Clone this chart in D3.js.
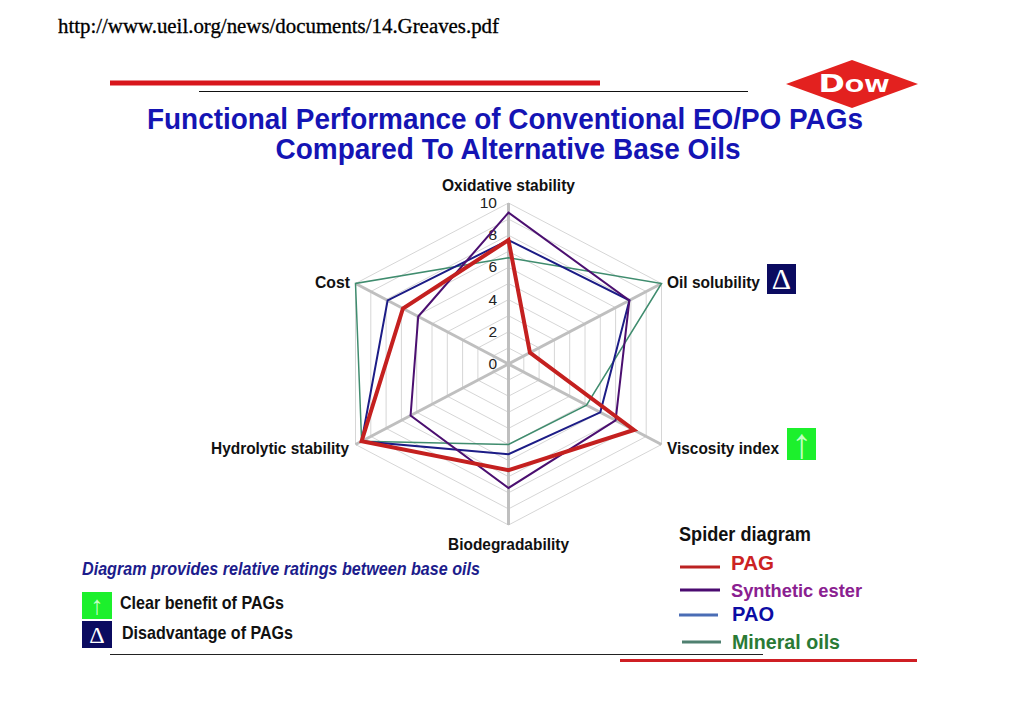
<!DOCTYPE html>
<html>
<head>
<meta charset="utf-8">
<style>
  html, body {margin: 0; padding: 0; background: #fff;}
  text {font-family: "Liberation Sans", Arial, sans-serif;}
</style>
<script src="https://d3js.org/d3.v7.min.js"></script>
</head>
<body>
<div id="chart-area"></div>
<script>
//spider chart data
let axesNames = ["Oxidative stability", "Oil solubility", "Viscosity index", "Biodegradability", "Hydrolytic stability", "Cost"];
let pag = [7.7, 1.4, 8.2, 6.6, 9.6, 6.9];
let ester = [9.4, 7.9, 7.0, 7.7, 6.4, 5.9];
let pao = [7.7, 7.9, 6.0, 5.6, 9.6, 7.9];
let mineral = [6.6, 10, 5.1, 5.0, 9.6, 10];
let tickLabels = [0, 2, 4, 6, 8, 10];
let rings = [1, 2, 3, 4, 5, 6, 7, 8, 9, 10];

let width = 1024;
let height = 703;
let cx = 508.5;
let cy = 364;

let svg = d3.select("#chart-area")
            .append("svg")
            .attr("width", width)
            .attr("height", height)
            .style("display", "block");

// header
svg.append("text")
    .text("http://www.ueil.org/news/documents/14.Greaves.pdf")
    .attr("x", 58)
    .attr("y", 33)
    .attr("font-size", 20)
    .attr("textLength", 441)
    .attr("lengthAdjust", "spacingAndGlyphs")
    .attr("fill", "#000")
    .attr("stroke", "#000")
    .attr("stroke-width", 0.3)
    .style("font-family", "'Liberation Serif', serif");

function rule(x1, x2, y, w, color){
    svg.append("line")
        .attr("x1", x1).attr("x2", x2)
        .attr("y1", y).attr("y2", y)
        .attr("stroke", color)
        .attr("stroke-width", w);
}
rule(110, 600, 83, 5, "#d8161c");
rule(199, 748, 91.5, 1, "#111");
rule(110, 763, 654.5, 1, "#222");
rule(620, 917, 660.5, 3, "#cf1f24");

// logo
svg.append("polygon")
    .attr("points", "786,84 852,60 918,84 852,108")
    .attr("fill", "#e3211f");
svg.append("text")
    .text("Dow")
    .attr("x", 854)
    .attr("y", 92)
    .attr("text-anchor", "middle")
    .attr("font-size", 25)
    .attr("font-weight", "bold")
    .attr("textLength", 71)
    .attr("lengthAdjust", "spacingAndGlyphs")
    .attr("fill", "#fff")
    .style("font-variant", "small-caps")
    .style("font-family", "'DejaVu Sans', sans-serif");

// title
let titleLines = ["Functional Performance of Conventional EO/PO PAGs", "Compared To Alternative Base Oils"];
let titleY = [129, 159];
let titleW = [716, 465];
svg.selectAll(".title")
    .data(titleLines)
    .enter()
    .append("text")
    .attr("class", "title")
    .text(function(d){ return d; })
    .attr("x", function(d, i){ return i == 0 ? 505 : 508; })
    .attr("y", function(d, i){ return titleY[i]; })
    .attr("text-anchor", "middle")
    .attr("font-size", 29)
    .attr("font-weight", "bold")
    .attr("textLength", function(d, i){ return titleW[i]; })
    .attr("lengthAdjust", "spacingAndGlyphs")
    .attr("fill", "#1414b4");

// scales, the plot is stretched sideways so x and y are separate
let halfW = 153 / Math.sin(Math.PI / 3);
let x = d3.scaleLinear().domain([-10, 10]).range([cx - halfW, cx + halfW]);
let y = d3.scaleLinear().domain([-10, 10]).range([cy + 161, cy - 161]);

function px(v, i){ return x(v * Math.sin(i * Math.PI / 3)); }
function py(v, i){ return y(v * Math.cos(i * Math.PI / 3)); }

let idx = d3.range(axesNames.length);
let g = svg.append("g");

// grid rings
let ringLine = d3.line()
    .x(function(d){ return d[0]; })
    .y(function(d){ return d[1]; })
    .curve(d3.curveLinearClosed);

g.selectAll(".ring")
    .data(rings)
    .enter()
    .append("path")
    .attr("class", "ring")
    .attr("d", function(r){
        return ringLine(idx.map(function(i){ return [px(r, i), py(r, i)]; }));
    })
    .attr("fill", "none")
    .attr("stroke", "#d6d6d6")
    .attr("stroke-width", 1);

// spokes
g.selectAll(".spoke")
    .data(idx)
    .enter()
    .append("line")
    .attr("class", "spoke")
    .attr("x1", x(0))
    .attr("y1", y(0))
    .attr("x2", function(i){ return px(10, i); })
    .attr("y2", function(i){ return py(10, i); })
    .attr("stroke", "#bfbfbf")
    .attr("stroke-width", 3);

// tick labels
g.selectAll(".tick-label")
    .data(tickLabels)
    .enter()
    .append("text")
    .attr("class", "tick-label")
    .text(function(d){ return d; })
    .attr("x", 497)
    .attr("y", function(d){ return y(d) + 5; })
    .attr("text-anchor", "end")
    .attr("font-size", 15.5)
    .attr("fill", "#222");

// series, thickest one on top
let seriesData = [mineral, pao, ester, pag];
let seriesColors = ["#3f8c6e", "#1c1c86", "#4b0f70", "#c4201f"];
let seriesWidths = [1.5, 2, 2, 4];

g.selectAll(".series")
    .data(seriesData)
    .enter()
    .append("path")
    .attr("class", "series")
    .attr("d", function(s){
        return ringLine(s.map(function(v, i){ return [px(v, i), py(v, i)]; }));
    })
    .attr("fill", "none")
    .attr("stroke", function(d, i){ return seriesColors[i]; })
    .attr("stroke-width", function(d, i){ return seriesWidths[i]; })
    .attr("stroke-linejoin", "miter");

// axis labels
let labelX = [508.5, 667, 667, 508.5, 349, 350];
let labelY = [191, 288, 454, 550, 454, 288];
let labelAnchor = ["middle", "start", "start", "middle", "end", "end"];
let labelW = [133, 93, 112, 121, 138, 35];
g.selectAll(".axis-label")
    .data(axesNames)
    .enter()
    .append("text")
    .attr("class", "axis-label")
    .text(function(d){ return d; })
    .attr("x", function(d, i){ return labelX[i]; })
    .attr("y", function(d, i){ return labelY[i]; })
    .attr("text-anchor", function(d, i){ return labelAnchor[i]; })
    .attr("font-size", 16.5)
    .attr("font-weight", "bold")
    .attr("textLength", function(d, i){ return labelW[i]; })
    .attr("lengthAdjust", "spacingAndGlyphs")
    .attr("fill", "#111");

// marker boxes
function box(bx, by, w, h, color, symbol, size){
    svg.append("rect")
        .attr("x", bx).attr("y", by)
        .attr("width", w).attr("height", h)
        .attr("fill", color);
    svg.append("text")
        .text(symbol)
        .attr("x", bx + w / 2)
        .attr("y", by + h / 2 + size / 3)
        .attr("text-anchor", "middle")
        .attr("font-size", size)
        .attr("fill", color == "#0b0b60" ? "#fff" : "#c4ffc4")
        .style("font-family", "'Liberation Serif', serif");
}
box(767, 264, 29, 30, "#0b0b60", "\u0394", 30);
box(787, 428, 29, 32, "#1cf02c", "\u2191", 42);
box(82, 592, 30, 27, "#1cf02c", "\u2191", 26);
box(82, 621, 30, 27, "#0b0b60", "\u0394", 24);

// notes
svg.append("text")
    .text("Diagram provides relative ratings between base oils")
    .attr("x", 82)
    .attr("y", 575)
    .attr("font-size", 19)
    .attr("font-weight", "bold")
    .attr("font-style", "italic")
    .attr("textLength", 398)
    .attr("lengthAdjust", "spacingAndGlyphs")
    .attr("fill", "#1c1c8c");

let noteText = ["Clear benefit of PAGs", "Disadvantage of PAGs"];
let noteX = [120, 122];
let noteY = [609, 639];
let noteW = [164, 171];
svg.selectAll(".note")
    .data(noteText)
    .enter()
    .append("text")
    .attr("class", "note")
    .text(function(d){ return d; })
    .attr("x", function(d, i){ return noteX[i]; })
    .attr("y", function(d, i){ return noteY[i]; })
    .attr("font-size", 19)
    .attr("font-weight", "bold")
    .attr("textLength", function(d, i){ return noteW[i]; })
    .attr("lengthAdjust", "spacingAndGlyphs")
    .attr("fill", "#111");

// legend
svg.append("text")
    .text("Spider diagram")
    .attr("x", 679)
    .attr("y", 541)
    .attr("font-size", 21)
    .attr("font-weight", "bold")
    .attr("textLength", 132)
    .attr("lengthAdjust", "spacingAndGlyphs")
    .attr("fill", "#111");

let legendNames = ["PAG", "Synthetic ester", "PAO", "Mineral oils"];
let legendLine = ["#bb2222", "#4b0b70", "#4a6db5", "#4f8070"];
let legendText = ["#cc2222", "#8a2090", "#0c0ca4", "#2a7a35"];
let legendLineX = [[680, 720], [680, 720], [679, 718], [682, 721]];
let legendLineY = [567, 590, 615, 642];
let legendTextX = [731, 731, 732, 732];
let legendTextY = [570, 597, 621, 649];
let legendTextW = [43, 131, 42, 108];
let legendSize = [20, 19, 20, 20];

let legend = svg.selectAll(".legend")
    .data(legendNames)
    .enter()
    .append("g")
    .attr("class", "legend");

legend.append("line")
    .attr("x1", function(d, i){ return legendLineX[i][0]; })
    .attr("x2", function(d, i){ return legendLineX[i][1]; })
    .attr("y1", function(d, i){ return legendLineY[i]; })
    .attr("y2", function(d, i){ return legendLineY[i]; })
    .attr("stroke", function(d, i){ return legendLine[i]; })
    .attr("stroke-width", 3);

legend.append("text")
    .text(function(d){ return d; })
    .attr("x", function(d, i){ return legendTextX[i]; })
    .attr("y", function(d, i){ return legendTextY[i]; })
    .attr("font-size", function(d, i){ return legendSize[i]; })
    .attr("font-weight", "bold")
    .attr("textLength", function(d, i){ return legendTextW[i]; })
    .attr("lengthAdjust", "spacingAndGlyphs")
    .attr("fill", function(d, i){ return legendText[i]; });
</script>
</body>
</html>
